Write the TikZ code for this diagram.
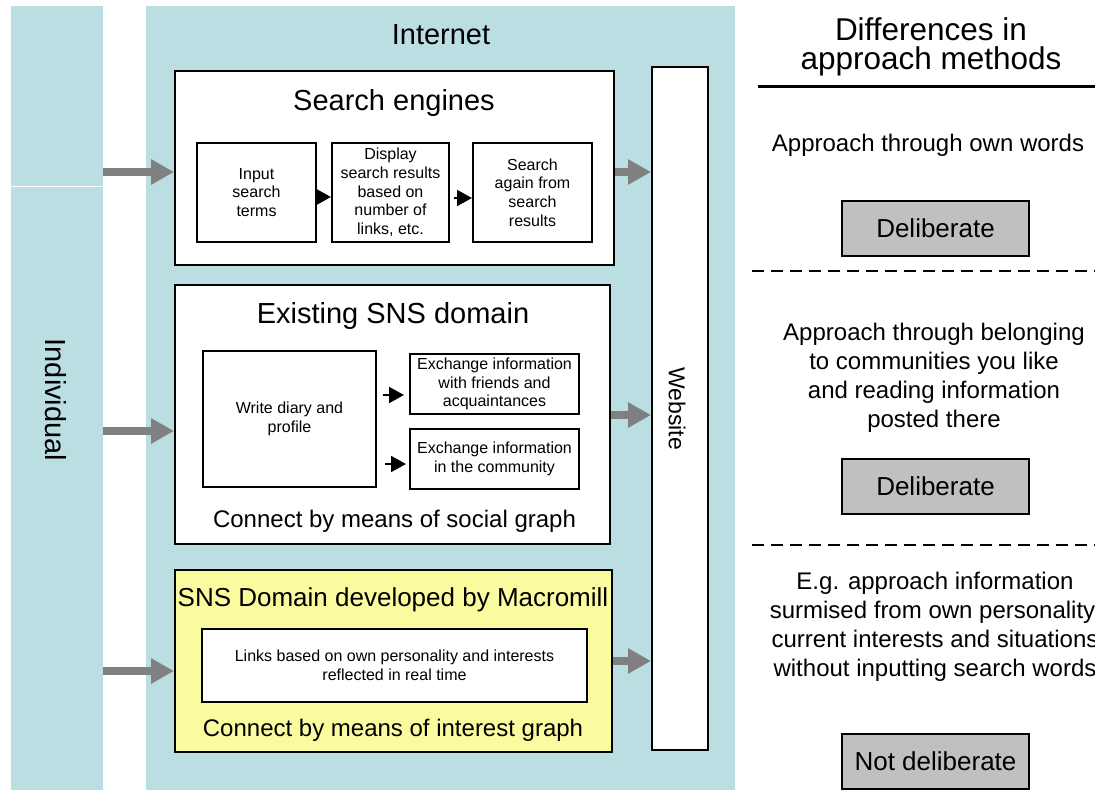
\documentclass[tikz,border=0pt]{standalone}
\usepackage{fontspec}
\setmainfont{Liberation Sans}
\usetikzlibrary{arrows.meta,calc}
\definecolor{lblue}{HTML}{BBDEE3}
\definecolor{lyellow}{HTML}{FAFA9E}
\definecolor{dgray}{HTML}{808080}
\definecolor{bgray}{HTML}{C0C0C0}
\newcommand{\fsz}[2]{\fontsize{#1}{#2}\selectfont}
\tikzset{
  panel/.style={fill=lblue, draw=none, inner sep=0pt, anchor=north west},
  wbox/.style={draw=black, line width=2pt, fill=white, inner sep=0pt, align=center},
  ybox/.style={wbox, fill=lyellow},
  gbox/.style={wbox, fill=bgray, font=\fsz{26}{30}, minimum width=187pt, minimum height=55pt},
  small/.style={font=\fsz{16}{18.7}, align=center},
  ttl/.style={font=\fsz{29}{33}, inner sep=0pt, anchor=base},
  sub/.style={font=\fsz{24}{29}, inner sep=0pt, anchor=base},
  para/.style={font=\fsz{24}{29}, inner sep=0pt, align=center},
  garrow/.style={draw=dgray, line width=7.5pt, -{Triangle[length=23pt,width=24pt]}},
  barrow/.style={draw=black, line width=2pt, -{Triangle[length=15pt,width=16pt]}},
}
\begin{document}
\begin{tikzpicture}[x=1pt,y=-1pt]
\useasboundingbox (0,0) rectangle (1095,790);
% background panels
\node[panel, minimum width=92pt, minimum height=784pt] (indiv) at (11,6) {};
\draw[white, line width=1pt] (indiv.west |- 0,186) -- (indiv.east |- 0,186);
\node[panel, minimum width=589pt, minimum height=784pt] (inet) at (146,6) {};
\node[rotate=-90, font=\fsz{29}{33}, inner sep=0pt] (indivt) at (56,400) {Individual};
\node[ttl] (inett) at (441,44) {Internet};

% search engines
\node[wbox, minimum width=439pt, minimum height=194pt] (se) at (394.5,168) {};
\node[ttl] (set) at (394,110) {Search engines};
\node[wbox, small, minimum width=119pt, minimum height=99pt] (inp) at (256.5,192.5) {Input\\search\\terms};
\node[wbox, small, minimum width=117pt, minimum height=99pt] (disp) at (390.5,192.5) {Display\\search results\\based on\\number of\\links, etc.};
\node[wbox, small, minimum width=119pt, minimum height=99pt] (again) at (532.5,192.5) {Search\\again from\\search\\results};
\draw[barrow] ($(inp.east)+(-2,4.5)$) -- ($(disp.west)+(0,4.5)$);
\draw[barrow] ($(disp.east)+(4,5.5)$) -- ($(again.west)+(0,5.5)$);

% existing SNS
\node[wbox, minimum width=435pt, minimum height=259pt] (sns) at (392.5,414.5) {};
\node[ttl] (snst) at (393,323.5) {Existing SNS domain};
\node[wbox, small, minimum width=173pt, minimum height=136pt] (write) at (289.5,419) {Write diary and\\profile};
\node[wbox, small, minimum width=169pt, minimum height=60pt] (ex1) at (494.5,384) {Exchange information\\with friends and\\acquaintances};
\node[wbox, small, minimum width=169pt, minimum height=60pt] (ex2) at (494.5,459) {Exchange information\\in the community};
\draw[barrow] ($(write.east |- ex1.west)+(6,11)$) -- ($(ex1.west)+(-5,11)$);
\draw[barrow] ($(write.east |- ex2.west)+(8,5)$) -- ($(ex2.west)+(-3,5)$);
\node[sub] (snsb) at (394.5,527) {Connect by means of social graph};

% Macromill
\node[ybox, minimum width=437pt, minimum height=182pt] (mac) at (393.5,661) {};
\node[font=\fsz{26}{30}, inner sep=0pt, anchor=base] (mact) at (393,606) {SNS Domain developed by Macromill};
\node[wbox, small, minimum width=385pt, minimum height=73pt] (links) at (394.5,665.5) {Links based on own personality and interests\\reflected in real time};
\node[sub] (macb) at (393,736) {Connect by means of interest graph};

% website
\node[wbox, minimum width=56pt, minimum height=683pt] (web) at (680,408.5) {};
\node[rotate=-90, font=\fsz{23}{27}, inner sep=0pt] (webt) at (677,408.5) {Website};

% gray arrows
\draw[garrow] (indiv.east |- 0,172) -- (se.west |- 0,172);
\draw[garrow] (indiv.east |- 0,431) -- (sns.west |- 0,431);
\draw[garrow] (indiv.east |- 0,671) -- (mac.west |- 0,671);
\draw[garrow] (se.east |- 0,172) -- (web.west |- 0,172);
\draw[garrow] (sns.east |- 0,415) -- (web.west |- 0,415);
\draw[garrow] (mac.east |- 0,661) -- (web.west |- 0,661);

% right column
\node[font=\fsz{31.5}{29.5}, inner sep=0pt, align=center] (diff) at (931,47) {Differences in\\approach methods};
\draw[line width=3pt] (758,86) -- (1095,86);
\node[sub] (p1) at (928,151) {Approach through own words};
\node[gbox] (d1) at (935.5,228) {Deliberate};
\draw[line width=2pt, dash pattern=on 12pt off 7pt] (752,271) -- (1095,271);
\node[para] (p2) at (934,377.5) {Approach through belonging\\to communities you like\\and reading information\\posted there};
\node[gbox] (d2) at (935.5,486) {Deliberate};
\draw[line width=2pt, dash pattern=on 12pt off 7pt] (752,545) -- (1095,545);
\node[para] (p3) at (935,627) {E.g. approach information\\surmised from own personality,\\current interests and situations\\without inputting search words};
\node[gbox] (d3) at (935.5,761) {Not deliberate};
\end{tikzpicture}
\end{document}
